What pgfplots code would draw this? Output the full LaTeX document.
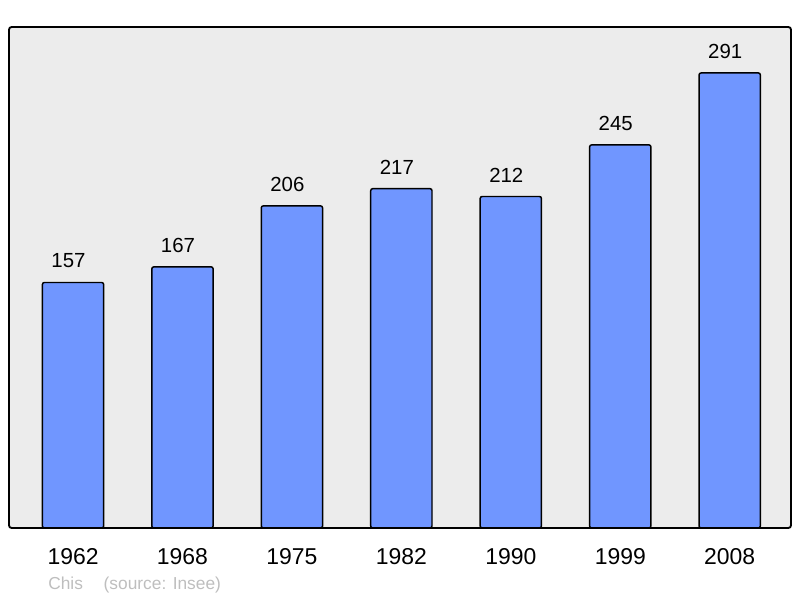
\documentclass[border=0pt]{standalone}
\usepackage{pgfplots}
\pgfplotsset{compat=1.18}
\usepackage{fontspec}
\setmainfont{Liberation Sans}
\definecolor{barblue}{RGB}{112,150,255}
\definecolor{panel}{RGB}{236,236,236}
\definecolor{notegray}{RGB}{190,190,190}
\begin{document}
\begin{tikzpicture}[x=0.75pt,y=0.75pt]
  \begin{axis}[
    scale only axis, width=586.5pt, height=375.75pt,
    xmin=-0.585, xmax=6.56, ymin=0, ymax=320.4,
    hide axis,
    ybar, bar width=0.56,
    clip=false,
    /pgf/number format/assume math mode=true,
    nodes near coords,
    every node near coord/.append style={anchor=south, inner sep=0pt, yshift=10.3pt,
      xshift=-3.4pt, font=\fontsize{15.3}{18}\selectfont, black},
  ]
    \coordinate (sw) at (rel axis cs:0,0);
    \fill[panel] (rel axis cs:0,0) [rounded corners=2pt] rectangle (rel axis cs:1,1);
    \addplot[fill=barblue, draw=black, line width=1.1pt, rounded corners=1.5pt] coordinates {
      (0,157) (1,167) (2,206) (3,217) (4,212) (5,245) (6,291)};
    \draw[line width=1.4pt, rounded corners=2pt] (rel axis cs:0,0) rectangle (rel axis cs:1,1);
    \foreach \i/\y in {0/1962,1/1968,2/1975,3/1982,4/1990,5/1999,6/2008} {
      \edef\temp{\noexpand\node[anchor=north, inner sep=0pt, yshift=-14.9pt,
        font=\noexpand\fontsize{17.2}{20}\noexpand\selectfont] at (axis cs:\i,0) {\y};}
      \temp
    }
  \end{axis}
  \node[anchor=west, inner sep=0pt, text=notegray, font=\fontsize{13}{15}\selectfont]
    at ([shift={(39,-57)}]sw) {Chis\hspace{1.2em}(source: Insee)};
  \pgfresetboundingbox
  \path[use as bounding box] ([shift={(-9,-70)}]sw) rectangle ++(800,598);
\end{tikzpicture}
\end{document}
